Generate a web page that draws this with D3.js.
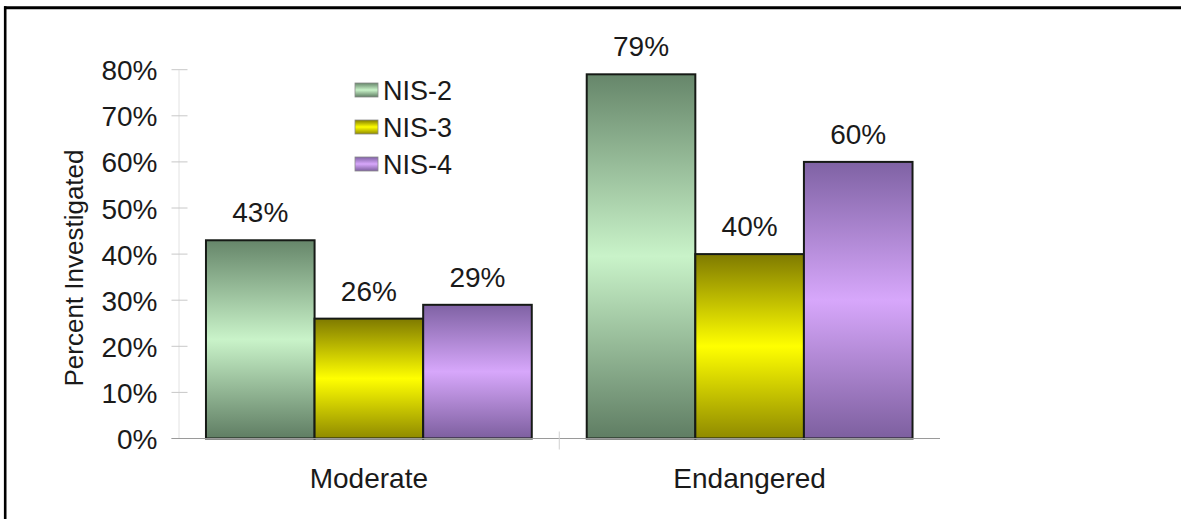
<!DOCTYPE html>
<html>
<head>
<meta charset="utf-8">
<script src="https://cdn.jsdelivr.net/npm/d3@7"></script>
<style>
  html, body { margin: 0; padding: 0; background: #ffffff; }
  svg { display: block; font-family: "Liberation Sans", Arial, sans-serif; }
</style>
</head>
<body>
<svg id="chart" width="1181" height="519"></svg>
<script>
// ---- data ----
const categories = ["Moderate", "Endangered"];
const seriesNames = ["NIS-2", "NIS-3", "NIS-4"];
const nis2 = [0.43, 0.79];
const nis3 = [0.26, 0.40];
const nis4 = [0.29, 0.60];
const yTicks = [0, 0.1, 0.2, 0.3, 0.4, 0.5, 0.6, 0.7, 0.8];
const yTitle = "Percent Investigated";

const seriesValues = [nis2, nis3, nis4];
const gradColors = [
  ["#66866a", "#c9f3c9", "#5f7d63"],
  ["#7f7a00", "#ffff00", "#8f8a00"],
  ["#7f62a4", "#d7a7fb", "#7d5f9f"]
];

const svg = d3.select("#chart");
const W = 1181, H = 519;
const plot = { left: 178.5, right: 940, top: 69.7, bottom: 438.5 };

// frame
svg.append("rect").attr("width", W).attr("height", H).attr("fill", "#ffffff");
svg.append("line").attr("x1", 4).attr("x2", W).attr("y1", 7.8).attr("y2", 7.8)
  .attr("stroke", "#000").attr("stroke-width", 3);
svg.append("line").attr("x1", 5.2).attr("x2", 5.2).attr("y1", 6.3).attr("y2", H)
  .attr("stroke", "#000").attr("stroke-width", 2.6);

// gradients
const defs = svg.append("defs");
seriesNames.forEach((s, i) => {
  const g = defs.append("linearGradient").attr("id", "grad" + i)
    .attr("x1", 0).attr("y1", 0).attr("x2", 0).attr("y2", 1);
  g.append("stop").attr("offset", "0%").attr("stop-color", gradColors[i][0]);
  g.append("stop").attr("offset", "50%").attr("stop-color", gradColors[i][1]);
  g.append("stop").attr("offset", "100%").attr("stop-color", gradColors[i][2]);
});

// scales
const y = d3.scaleLinear().domain([0, 0.8]).range([plot.bottom, plot.top]);
const x0 = d3.scaleBand().domain(categories).range([plot.left, plot.right]).padding(0);
const x1 = d3.scaleBand().domain(seriesNames).range([0, x0.bandwidth()])
  .paddingInner(0).paddingOuter(0.253);

// y axis
const yAxis = svg.append("g").attr("transform", `translate(${plot.left},0)`)
  .call(d3.axisLeft(y).tickValues(yTicks).tickFormat(d3.format(".0%"))
    .tickSize(0).tickPadding(21));
yAxis.select(".domain").attr("stroke", "#e2e2e2").attr("stroke-width", 1);
yAxis.selectAll("text").attr("font-size", 28).attr("fill", "#1a1a1a")
  .attr("font-family", "Liberation Sans, Arial, sans-serif").attr("dy", "0.36em");
// cross ticks
svg.append("g").selectAll("line").data(yTicks).join("line")
  .attr("x1", plot.left - 7).attr("x2", plot.left + 9)
  .attr("y1", d => y(d)).attr("y2", d => y(d))
  .attr("stroke", "#c8c8c8").attr("stroke-width", 1);

// bars
const groups = svg.append("g").selectAll("g").data(categories).join("g")
  .attr("transform", c => `translate(${x0(c)},0)`);
groups.selectAll("rect")
  .data((c, ci) => seriesNames.map((s, si) => ({ s, si, v: seriesValues[si][ci] })))
  .join("rect")
  .attr("x", d => x1(d.s))
  .attr("y", d => y(d.v))
  .attr("width", x1.bandwidth())
  .attr("height", d => y(0) - y(d.v))
  .attr("fill", d => `url(#grad${d.si})`)
  .attr("stroke", "#161a16").attr("stroke-width", 2);
groups.selectAll("text.val")
  .data((c, ci) => seriesNames.map((s, si) => ({ s, si, v: seriesValues[si][ci] })))
  .join("text").attr("class", "val")
  .attr("x", d => x1(d.s) + x1.bandwidth() / 2)
  .attr("y", d => y(d.v) - 18)
  .attr("text-anchor", "middle").attr("font-size", 28).attr("fill", "#1a1a1a")
  .text(d => d3.format(".0%")(d.v));

// x baseline + category boundary tick
svg.append("line").attr("x1", plot.left - 7).attr("x2", plot.right)
  .attr("y1", y(0)).attr("y2", y(0)).attr("stroke", "#9a9a9a").attr("stroke-width", 1);
svg.append("g").selectAll("line").data(categories.slice(1)).join("line")
  .attr("x1", c => x0(c)).attr("x2", c => x0(c))
  .attr("y1", y(0) - 7).attr("y2", y(0) + 11)
  .attr("stroke", "#d0d0d0").attr("stroke-width", 1);

// category labels
svg.append("g").selectAll("text").data(categories).join("text")
  .attr("x", c => x0(c) + x0.bandwidth() / 2)
  .attr("y", 488)
  .attr("text-anchor", "middle").attr("font-size", 28).attr("fill", "#1a1a1a")
  .text(c => c);

// y title
svg.append("text")
  .attr("transform", "translate(83,268) rotate(-90)")
  .attr("text-anchor", "middle").attr("font-size", 26).attr("fill", "#1a1a1a")
  .text(yTitle);

// legend
const legend = svg.append("g").selectAll("g").data(seriesNames).join("g")
  .attr("transform", (s, i) => `translate(355,${90 + i * 37})`);
legend.append("rect").attr("x", 0).attr("y", -7).attr("width", 23).attr("height", 14)
  .attr("fill", (s, i) => `url(#grad${i})`).attr("stroke", "#8a8a8a").attr("stroke-width", 0.8);
legend.append("text").attr("x", 28).attr("y", 0).attr("dy", "0.36em")
  .attr("font-size", 27).attr("fill", "#1a1a1a").text(s => s);
</script>
</body>
</html>
